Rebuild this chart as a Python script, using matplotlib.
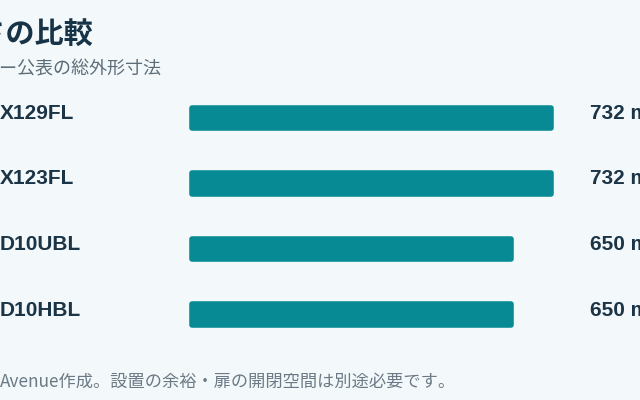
import matplotlib
matplotlib.use("Agg")
from matplotlib import pyplot as plt

plt.rcParams['font.family'] = ['Noto Sans CJK JP', 'DejaVu Sans']

W, H = 640, 400
BG = "#f3f8fa"
BAR = "#078a93"
DARK = "#1b3446"
LATIN = ['Liberation Sans', 'Noto Sans CJK JP']

models = ["X129FL", "X123FL", "D10UBL", "D10HBL"]
widths_mm = [732, 732, 650, 650]
value_labels = ["732 mm", "732 mm", "650 mm", "650 mm"]

title = "大きさの比較"
subtitle = "メーカー公表の総外形寸法"
footnote = "Avenue作成。設置の余裕・扉の開閉空間は別途必要です。"

fig = plt.figure(figsize=(W / 100, H / 100), dpi=100, facecolor=BG)

# axes placed in pixel terms: x=0 at 192px, 800 mm -> ~392px wide
left, right = 192, 584
top, bottom = 85.25, 347.25
ax = fig.add_axes([left / W, 1 - bottom / H, (right - left) / W, (bottom - top) / H])
ax.set_facecolor(BG)
ax.set_xlim(0, 800)
ax.set_ylim(len(models) - 0.5, -0.5)
ax.axis("off")

# thick round-joined edge gives the rounded corners
ypos = list(range(len(models)))
bars = ax.barh(ypos, widths_mm, height=0.31, color=BAR, edgecolor=BAR,
               linewidth=4, joinstyle="round")
for b in bars:
    b.set_clip_on(False)


def px(x, y):
    return x / W, 1 - y / H


for i, (m, v) in enumerate(zip(models, value_labels)):
    yc = 118 + i * 65.5 - 4.5
    fig.text(*px(0, yc), m, ha="left", va="center", fontsize=15,
             fontweight="bold", color=DARK, family=LATIN)
    fig.text(*px(590, yc), v, ha="left", va="center", fontsize=15,
             fontweight="bold", color=DARK, family=LATIN)

fig.text(*px(94, 34), title, ha="right", va="center", fontsize=21,
         fontweight="bold", color="#173347")
fig.text(*px(162, 70), subtitle, ha="right", va="center", fontsize=13,
         color="#5c6d7a")
fig.text(*px(0, 382), footnote, ha="left", va="center", fontsize=12.4,
         color="#6b7a86")

fig.savefig("out.png", dpi=100, facecolor=BG)
